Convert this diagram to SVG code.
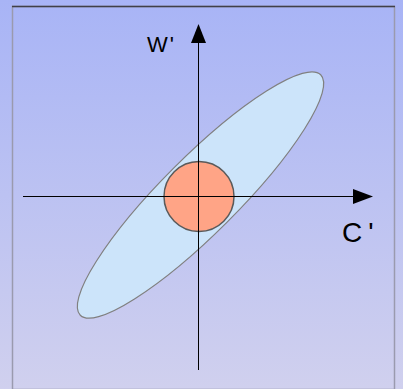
<svg xmlns="http://www.w3.org/2000/svg" width="403" height="389" viewBox="0 0 403 389">
<defs>
<linearGradient id="bg" x1="0" y1="0" x2="0" y2="1">
<stop offset="0" stop-color="#a8b4f6"/>
<stop offset="1" stop-color="#d0d0ee"/>
</linearGradient>
<style>
.lbl{font-family:"Liberation Sans",Arial,sans-serif;fill:#000}
.ax{stroke:#000;stroke-width:1;fill:none}
</style>
</defs>
<rect x="0" y="0" width="403" height="389" fill="url(#bg)"/>
<g id="frame">
<rect x="12.5" y="6.5" width="382" height="383" fill="none" stroke="#9a9aae" stroke-width="1.5"/>
<line x1="12" y1="6.5" x2="395" y2="6.5" stroke="#404048" stroke-width="1.5"/>
</g>
<g id="ellipse">
<ellipse cx="200.5" cy="195" rx="170" ry="38" transform="rotate(-45 200.5 195)" fill="#cce4fa" stroke="#808080" stroke-width="1.2"/>
</g>
<g id="circle">
<circle cx="199" cy="196.5" r="35" fill="#ffa486" stroke="#5a5a5a" stroke-width="1.5"/>
</g>
<g id="connectors">
<line x1="23" y1="196.5" x2="353" y2="196.5" class="ax"/>
<path d="M353,189 L373,196.5 L353,204 Z" fill="#000"/>
<line x1="198.5" y1="370" x2="198.5" y2="43" class="ax"/>
<path d="M191,43 L198.5,24 L206,43 Z" fill="#000"/>
</g>
<g id="labels">
<text x="147" y="52" class="lbl" font-size="22">W<tspan dx="2">'</tspan></text>
<text x="342" y="242" class="lbl" font-size="28">C<tspan dx="6">'</tspan></text>
</g>
</svg>
